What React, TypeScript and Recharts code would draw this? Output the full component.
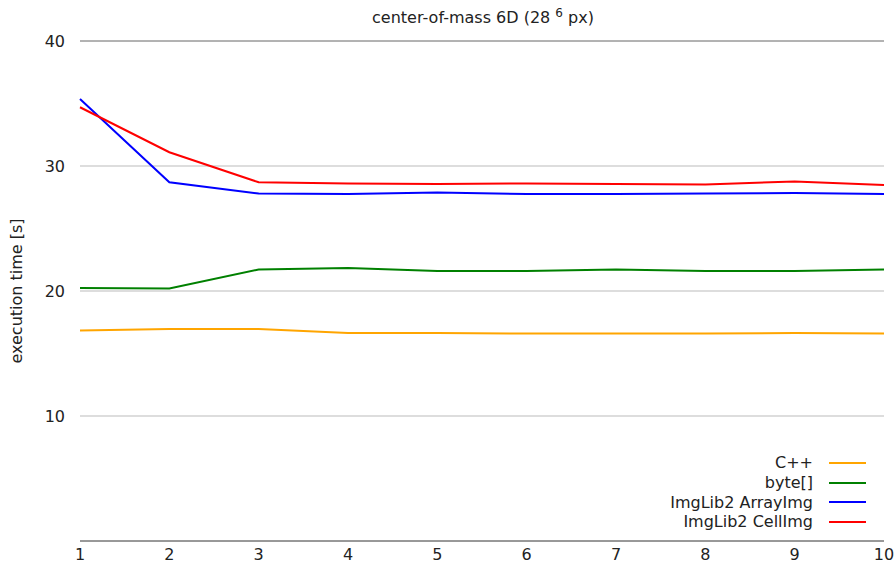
import { LineChart, Line, XAxis, YAxis, CartesianGrid, ReferenceLine } from 'recharts'

const sizes = [1, 2, 3, 4, 5, 6, 7, 8, 9, 10]
const cpp = [16.84, 16.96, 16.96, 16.64, 16.64, 16.6, 16.6, 16.6, 16.64, 16.6]
const byteArray = [20.24, 20.2, 21.72, 21.84, 21.6, 21.6, 21.72, 21.6, 21.6, 21.72]
const arrayImg = [35.36, 28.7, 27.8, 27.76, 27.88, 27.76, 27.76, 27.8, 27.84, 27.76]
const cellImg = [34.7, 31.1, 28.7, 28.6, 28.56, 28.6, 28.56, 28.52, 28.76, 28.48]
const yTicks = [10, 20, 30, 40]

const series = [
  { key: 'cpp', name: 'C++', color: '#ffa500' },
  { key: 'byteArray', name: 'byte[]', color: '#008000' },
  { key: 'arrayImg', name: 'ImgLib2 ArrayImg', color: '#0000ff' },
  { key: 'cellImg', name: 'ImgLib2 CellImg', color: '#ff0000' },
]

const data = sizes.map((x, i) => ({
  x,
  cpp: cpp[i],
  byteArray: byteArray[i],
  arrayImg: arrayImg[i],
  cellImg: cellImg[i],
}))

const font = '"DejaVu Sans", sans-serif'

// legend sits over the plot, bottom right, so it is drawn outside recharts
function LegendBox() {
  return (
    <div style={{ position: 'absolute', right: 28, top: 453, fontFamily: font, fontSize: 16, color: '#222' }}>
      {series.map((s) => (
        <div key={s.key} style={{ display: 'flex', alignItems: 'center', justifyContent: 'flex-end', height: 19.7 }}>
          <span>{s.name}</span>
          <span style={{ display: 'inline-block', width: 37, height: 2, background: s.color, marginLeft: 16 }} />
        </div>
      ))}
    </div>
  )
}

export default function App() {
  return (
    <div style={{ position: 'absolute', left: 0, top: 0, width: 894, height: 563, background: '#fff' }}>
      <LineChart width={894} height={563} data={data} margin={{ top: 41, right: 10, bottom: 0, left: 0 }}>
        <CartesianGrid vertical={false} stroke="#bbb" strokeWidth={1} />
        <XAxis
          dataKey="x"
          type="number"
          domain={[1, 10]}
          ticks={sizes}
          height={22}
          tickLine={false}
          axisLine={{ stroke: '#555' }}
          tick={{ fontFamily: font, fontSize: 16, fill: '#222' }}
          tickMargin={2}
          interval={0}
        />
        <YAxis
          type="number"
          domain={[0, 40]}
          ticks={yTicks}
          width={80}
          tickLine={false}
          axisLine={false}
          tick={{ fontFamily: font, fontSize: 16, fill: '#222' }}
          tickMargin={9}
          label={{
            value: 'execution time [s]',
            angle: -90,
            position: 'insideLeft',
            offset: 16,
            style: { fontFamily: font, fontSize: 16, fill: '#222', textAnchor: 'middle' },
          }}
        />
        <ReferenceLine y={40} stroke="#888" />
        {series.map((s) => (
          <Line
            key={s.key}
            dataKey={s.key}
            name={s.name}
            stroke={s.color}
            strokeWidth={2}
            dot={false}
            isAnimationActive={false}
          />
        ))}
      </LineChart>
      <div
        style={{
          position: 'absolute',
          top: 6,
          left: 0,
          width: 966,
          textAlign: 'center',
          fontFamily: font,
          fontSize: 16,
          color: '#222',
        }}
      >
        center-of-mass 6D (28 <sup style={{ fontSize: 12 }}>6</sup> px)
      </div>
      <LegendBox />
    </div>
  )
}
